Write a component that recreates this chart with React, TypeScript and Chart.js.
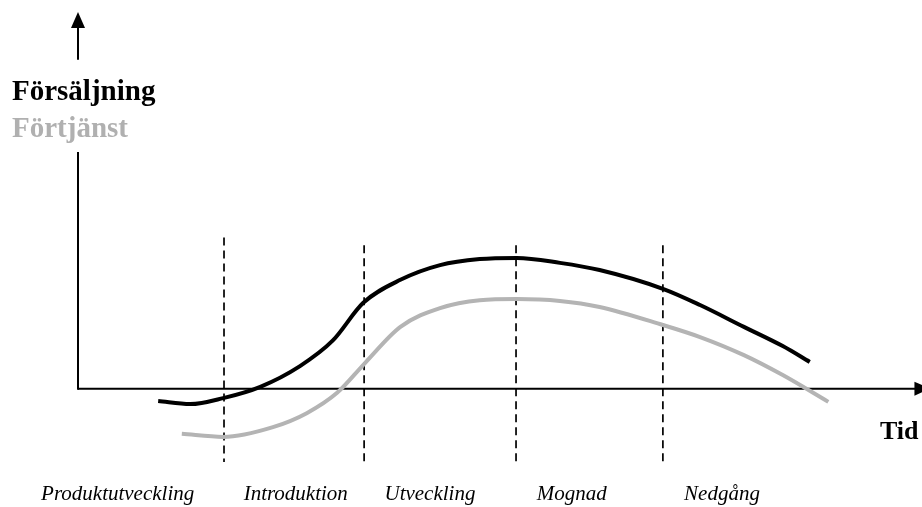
import React, { useEffect, useRef } from "react";
import { Chart, registerables } from "chart.js";

Chart.register(...registerables);

// Phase labels and their positions on the time axis
const phases = ["Produktutveckling", "Introduktion", "Utveckling", "Mognad", "Nedgång"];
const phaseLabelX = [4.7, 25.8, 41.7, 58.5, 76.3];
// Phase boundaries (dashed lines)
const boundaryX = [17.3, 33.9, 51.9, 69.3];
const boundaryTop = [40.1, 38.1, 38.1, 38.1];
const boundaryBottom = -19.5;

// Försäljning (sales) curve
const salesX = [9.5, 13.3, 17.2, 21.6, 26.3, 30.2, 33.8, 38.2, 42.9, 47.6, 52.0, 57.1, 61.8, 69.3, 73.7, 78.9, 83.5, 86.7];
const salesY = [-3.3, -4.1, -2.5, 0.5, 6.0, 12.8, 22.8, 28.9, 32.8, 34.4, 34.7, 33.4, 31.5, 26.5, 22.2, 16.4, 11.3, 7.1];

// Förtjänst (profit) curve
const profitX = [12.3, 17.2, 23.1, 27.1, 30.7, 34.0, 38.2, 42.9, 47.6, 52.0, 57.1, 61.8, 69.3, 73.7, 78.9, 83.5, 88.9];
const profitY = [-12.0, -12.8, -10.2, -6.5, -1.1, 6.8, 16.4, 21.4, 23.5, 23.8, 23.3, 21.7, 16.9, 13.7, 8.9, 3.6, -3.5];

// Axis ranges
const xMin = 0;
const xMax = 100;
const yMin = -20;
const yMax = 100;
// Y axis gap (where labels are)
const yAxisGapLow = 62.8;
const yAxisGapHigh = 87.3;

const SERIF = "'Liberation Serif', 'Times New Roman', serif";

export default function App() {
  const ref = useRef<HTMLCanvasElement | null>(null);

  useEffect(() => {
    const canvas = ref.current;
    if (!canvas) return;

    const axesPlugin = {
      id: "lifecycleAxes",
      beforeDatasetsDraw(chart: any) {
        const ctx = chart.ctx;
        const xs = chart.scales.x;
        const ys = chart.scales.y;
        const x0 = xs.getPixelForValue(0);
        const y0 = ys.getPixelForValue(0);
        ctx.save();
        ctx.strokeStyle = "#000";
        ctx.fillStyle = "#000";
        ctx.lineWidth = 2;
        // x axis
        const xEnd = xs.getPixelForValue(101);
        ctx.beginPath();
        ctx.moveTo(x0, y0);
        ctx.lineTo(xEnd - 14, y0);
        ctx.stroke();
        ctx.beginPath();
        ctx.moveTo(xEnd, y0);
        ctx.lineTo(xEnd - 16, y0 - 7);
        ctx.lineTo(xEnd - 16, y0 + 7);
        ctx.closePath();
        ctx.fill();
        // y axis (lower part)
        ctx.beginPath();
        ctx.moveTo(x0, y0 + 1);
        ctx.lineTo(x0, ys.getPixelForValue(yAxisGapLow));
        ctx.stroke();
        // y axis (upper part)
        const yTop = ys.getPixelForValue(yMax);
        ctx.beginPath();
        ctx.moveTo(x0, ys.getPixelForValue(yAxisGapHigh));
        ctx.lineTo(x0, yTop + 14);
        ctx.stroke();
        ctx.beginPath();
        ctx.moveTo(x0, yTop);
        ctx.lineTo(x0 - 7, yTop + 16);
        ctx.lineTo(x0 + 7, yTop + 16);
        ctx.closePath();
        ctx.fill();
        ctx.restore();
      },
      afterDraw(chart: any) {
        const ctx = chart.ctx;
        const xs = chart.scales.x;
        const ys = chart.scales.y;
        const x0 = xs.getPixelForValue(0);
        ctx.save();
        ctx.textBaseline = "alphabetic";
        // Y axis labels
        ctx.font = `bold 29px ${SERIF}`;
        ctx.textAlign = "left";
        ctx.fillStyle = "#000";
        ctx.fillText("Försäljning", x0 - 66, ys.getPixelForValue(yAxisGapHigh) + 40);
        ctx.fillStyle = "#b0b0b0";
        ctx.fillText("Förtjänst", x0 - 66, ys.getPixelForValue(yAxisGapHigh) + 77);
        // X axis label
        ctx.fillStyle = "#000";
        ctx.font = `bold 26px ${SERIF}`;
        ctx.fillText("Tid", 880, ys.getPixelForValue(0) + 50);
        // Phase labels
        ctx.font = `italic 21px ${SERIF}`;
        ctx.textAlign = "center";
        phases.forEach((p, i) => {
          ctx.fillText(p, xs.getPixelForValue(phaseLabelX[i]), chart.chartArea.bottom + 36);
        });
        ctx.restore();
      },
    };

    const toPts = (xsArr: number[], ysArr: number[]) => xsArr.map((x, i) => ({ x, y: ysArr[i] }));

    const boundaryDatasets = boundaryX.map((bx, i) => ({
      label: "b" + i,
      data: [
        { x: bx, y: boundaryTop[i] },
        { x: bx, y: boundaryBottom },
      ],
      borderColor: "#000",
      borderWidth: 1.7,
      borderDash: [8, 5],
      pointRadius: 0,
      tension: 0,
      clip: false as any,
    }));

    const chart = new Chart(canvas, {
      type: "line",
      data: {
        datasets: [
          {
            label: "Förtjänst",
            data: toPts(profitX, profitY),
            borderColor: "#b4b4b4",
            borderWidth: 4,
            pointRadius: 0,
            cubicInterpolationMode: "monotone",
            clip: false as any,
          },
          {
            label: "Försäljning",
            data: toPts(salesX, salesY),
            borderColor: "#000",
            borderWidth: 4,
            pointRadius: 0,
            cubicInterpolationMode: "monotone",
            clip: false as any,
          },
          ...boundaryDatasets,
        ] as any,
      },
      options: {
        responsive: false,
        animation: false,
        events: [],
        layout: { padding: { left: 78, right: 0, top: 12, bottom: 43 } },
        plugins: { legend: { display: false }, tooltip: { enabled: false } },
        scales: {
          x: { type: "linear", min: xMin, max: xMax, display: false },
          y: { type: "linear", min: yMin, max: yMax, display: false },
        },
      },
      plugins: [axesPlugin],
    });

    return () => chart.destroy();
  }, []);

  return (
    <div style={{ position: "fixed", left: 0, top: 0, width: 922, height: 507, background: "#fff" }}>
      <canvas ref={ref} width={922} height={507} style={{ display: "block", width: 922, height: 507 }} />
    </div>
  );
}
